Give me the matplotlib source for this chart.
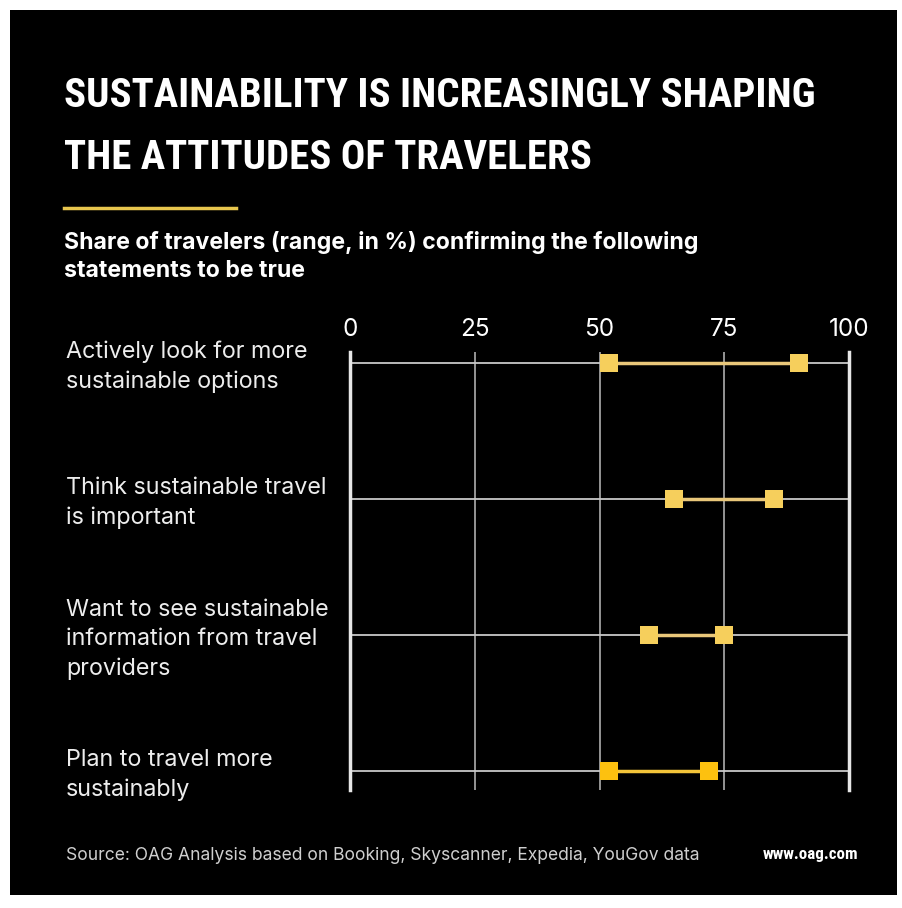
import matplotlib.pyplot as plt
import matplotlib.transforms as mtransforms
from matplotlib import font_manager
from matplotlib.patches import Rectangle
from matplotlib.lines import Line2D

##########################################################
#                         Data                           #
##########################################################

statements = [
    "Actively look for more\nsustainable options",
    "Think sustainable travel\nis important",
    "Want to see sustainable\ninformation from travel\nproviders",
    "Plan to travel more\nsustainably",
]
low_values = [52, 65, 60, 52]
high_values = [90, 85, 75, 72]
x_ticks = [0, 25, 50, 75, 100]

marker_colors = ["#F6CF5C", "#F6CF5C", "#F6CF5C", "#FDC10F"]
line_colors = ["#E9C77A", "#E9C77A", "#E9C77A", "#F3C53A"]

##########################################################
#                 Pick a narrow title font               #
##########################################################

title_font = "Roboto"
for name in ["Roboto Condensed", "Liberation Sans Narrow", "DejaVu Sans Condensed",
             "Open Sans Condensed"]:
    try:
        font_manager.findfont(font_manager.FontProperties(family=name),
                              fallback_to_default=False)
        title_font = name
        break
    except ValueError:
        pass

##########################################################
#                     Figure setup                       #
##########################################################

fig = plt.figure(figsize=(9.03, 9.08), dpi=100, facecolor="white")

# black card
fig.patches.append(Rectangle((10 / 903, 13 / 908), 887 / 903, 885 / 908,
                             transform=fig.transFigure, facecolor="black",
                             edgecolor="none", zorder=-5))

t1 = fig.text(64 / 903, 1 - 96 / 908, "SUSTAINABILITY IS INCREASINGLY SHAPING",
              family=title_font, weight="bold", fontsize=37, color="white",
              va="center", ha="left")
t2 = fig.text(64 / 903, 1 - 158 / 908, "THE ATTITUDES OF TRAVELERS",
              family=title_font, weight="bold", fontsize=37, color="white",
              va="center", ha="left")
w3 = fig.text(858 / 903, 1 - 855 / 908, "www.oag.com", family=title_font,
              weight="bold", fontsize=13, color="white", va="center", ha="right")

# fit title widths to the reference
renderer = fig.canvas.get_renderer()
w = t1.get_window_extent(renderer).width
scale = 750 / w
t1.set_fontsize(37 * scale)
t2.set_fontsize(37 * scale)
w = w3.get_window_extent(renderer).width
w3.set_fontsize(13 * 95 / w)

# yellow rule under title
fig.lines.append(Line2D([64 / 903, 236 / 903], [1 - 208 / 908, 1 - 208 / 908],
                        transform=fig.transFigure, color="#E8C64E", lw=2.5))

fig.text(64 / 903, 1 - 242 / 908,
         "Share of travelers (range, in %) confirming the following",
         family="Inter", weight="bold", fontsize=16.6, color="white",
         va="center", ha="left")
fig.text(64 / 903, 1 - 271 / 908, "statements to be true",
         family="Inter", weight="bold", fontsize=16.6, color="white",
         va="center", ha="left")

##########################################################
#                      Range chart                       #
##########################################################

ax = fig.add_axes([350 / 903, 1 - 790 / 908, 499 / 903, 438 / 908])
ax.set_facecolor("black")
ax.set_xlim(0, 100)
ax.set_ylim(3.14, -0.08)

rows = list(range(len(statements)))

# grid lines
for xv in x_ticks[1:-1]:
    ax.axvline(xv, color="#BDBDBD", lw=1.1, zorder=1)
ax.hlines(rows, 0, 100, color="#C8C8C8", lw=1.3, zorder=1)

for spine in ["top", "bottom"]:
    ax.spines[spine].set_visible(False)
for spine in ["left", "right"]:
    ax.spines[spine].set_color("#E6E6E6")
    ax.spines[spine].set_linewidth(2.5)

# ranges
for i in rows:
    ax.plot([low_values[i], high_values[i]], [i, i], color=line_colors[i],
            lw=2.5, zorder=2, solid_capstyle="butt")
    ax.plot([low_values[i], high_values[i]], [i, i], linestyle="none",
            marker="s", markersize=12.5, color=marker_colors[i],
            markeredgewidth=0, zorder=3)

ax.xaxis.tick_top()
ax.set_xticks(x_ticks)
ax.set_xticklabels([str(t) for t in x_ticks])
ax.tick_params(axis="x", length=0, pad=8, labelsize=17.5, labelcolor="white")
for lbl in ax.get_xticklabels():
    lbl.set_family("Inter")
ax.set_yticks([])

# statement labels
label_trans = mtransforms.blended_transform_factory(fig.transFigure, ax.transData)
for i, text in enumerate(statements):
    ax.text(66 / 903, i + 0.03, text, transform=label_trans,
            family="Inter", fontsize=16.8, color="#EDEDED", va="center",
            ha="left", linespacing=1.42)

##########################################################
#                        Footer                          #
##########################################################

fig.text(66 / 903, 1 - 855 / 908,
         "Source: OAG Analysis based on Booking, Skyscanner, Expedia, YouGov data",
         family="Inter", fontsize=12.6, color="#CFCFCF", va="center", ha="left")

fig.savefig("out.png", dpi=100, facecolor="white")
